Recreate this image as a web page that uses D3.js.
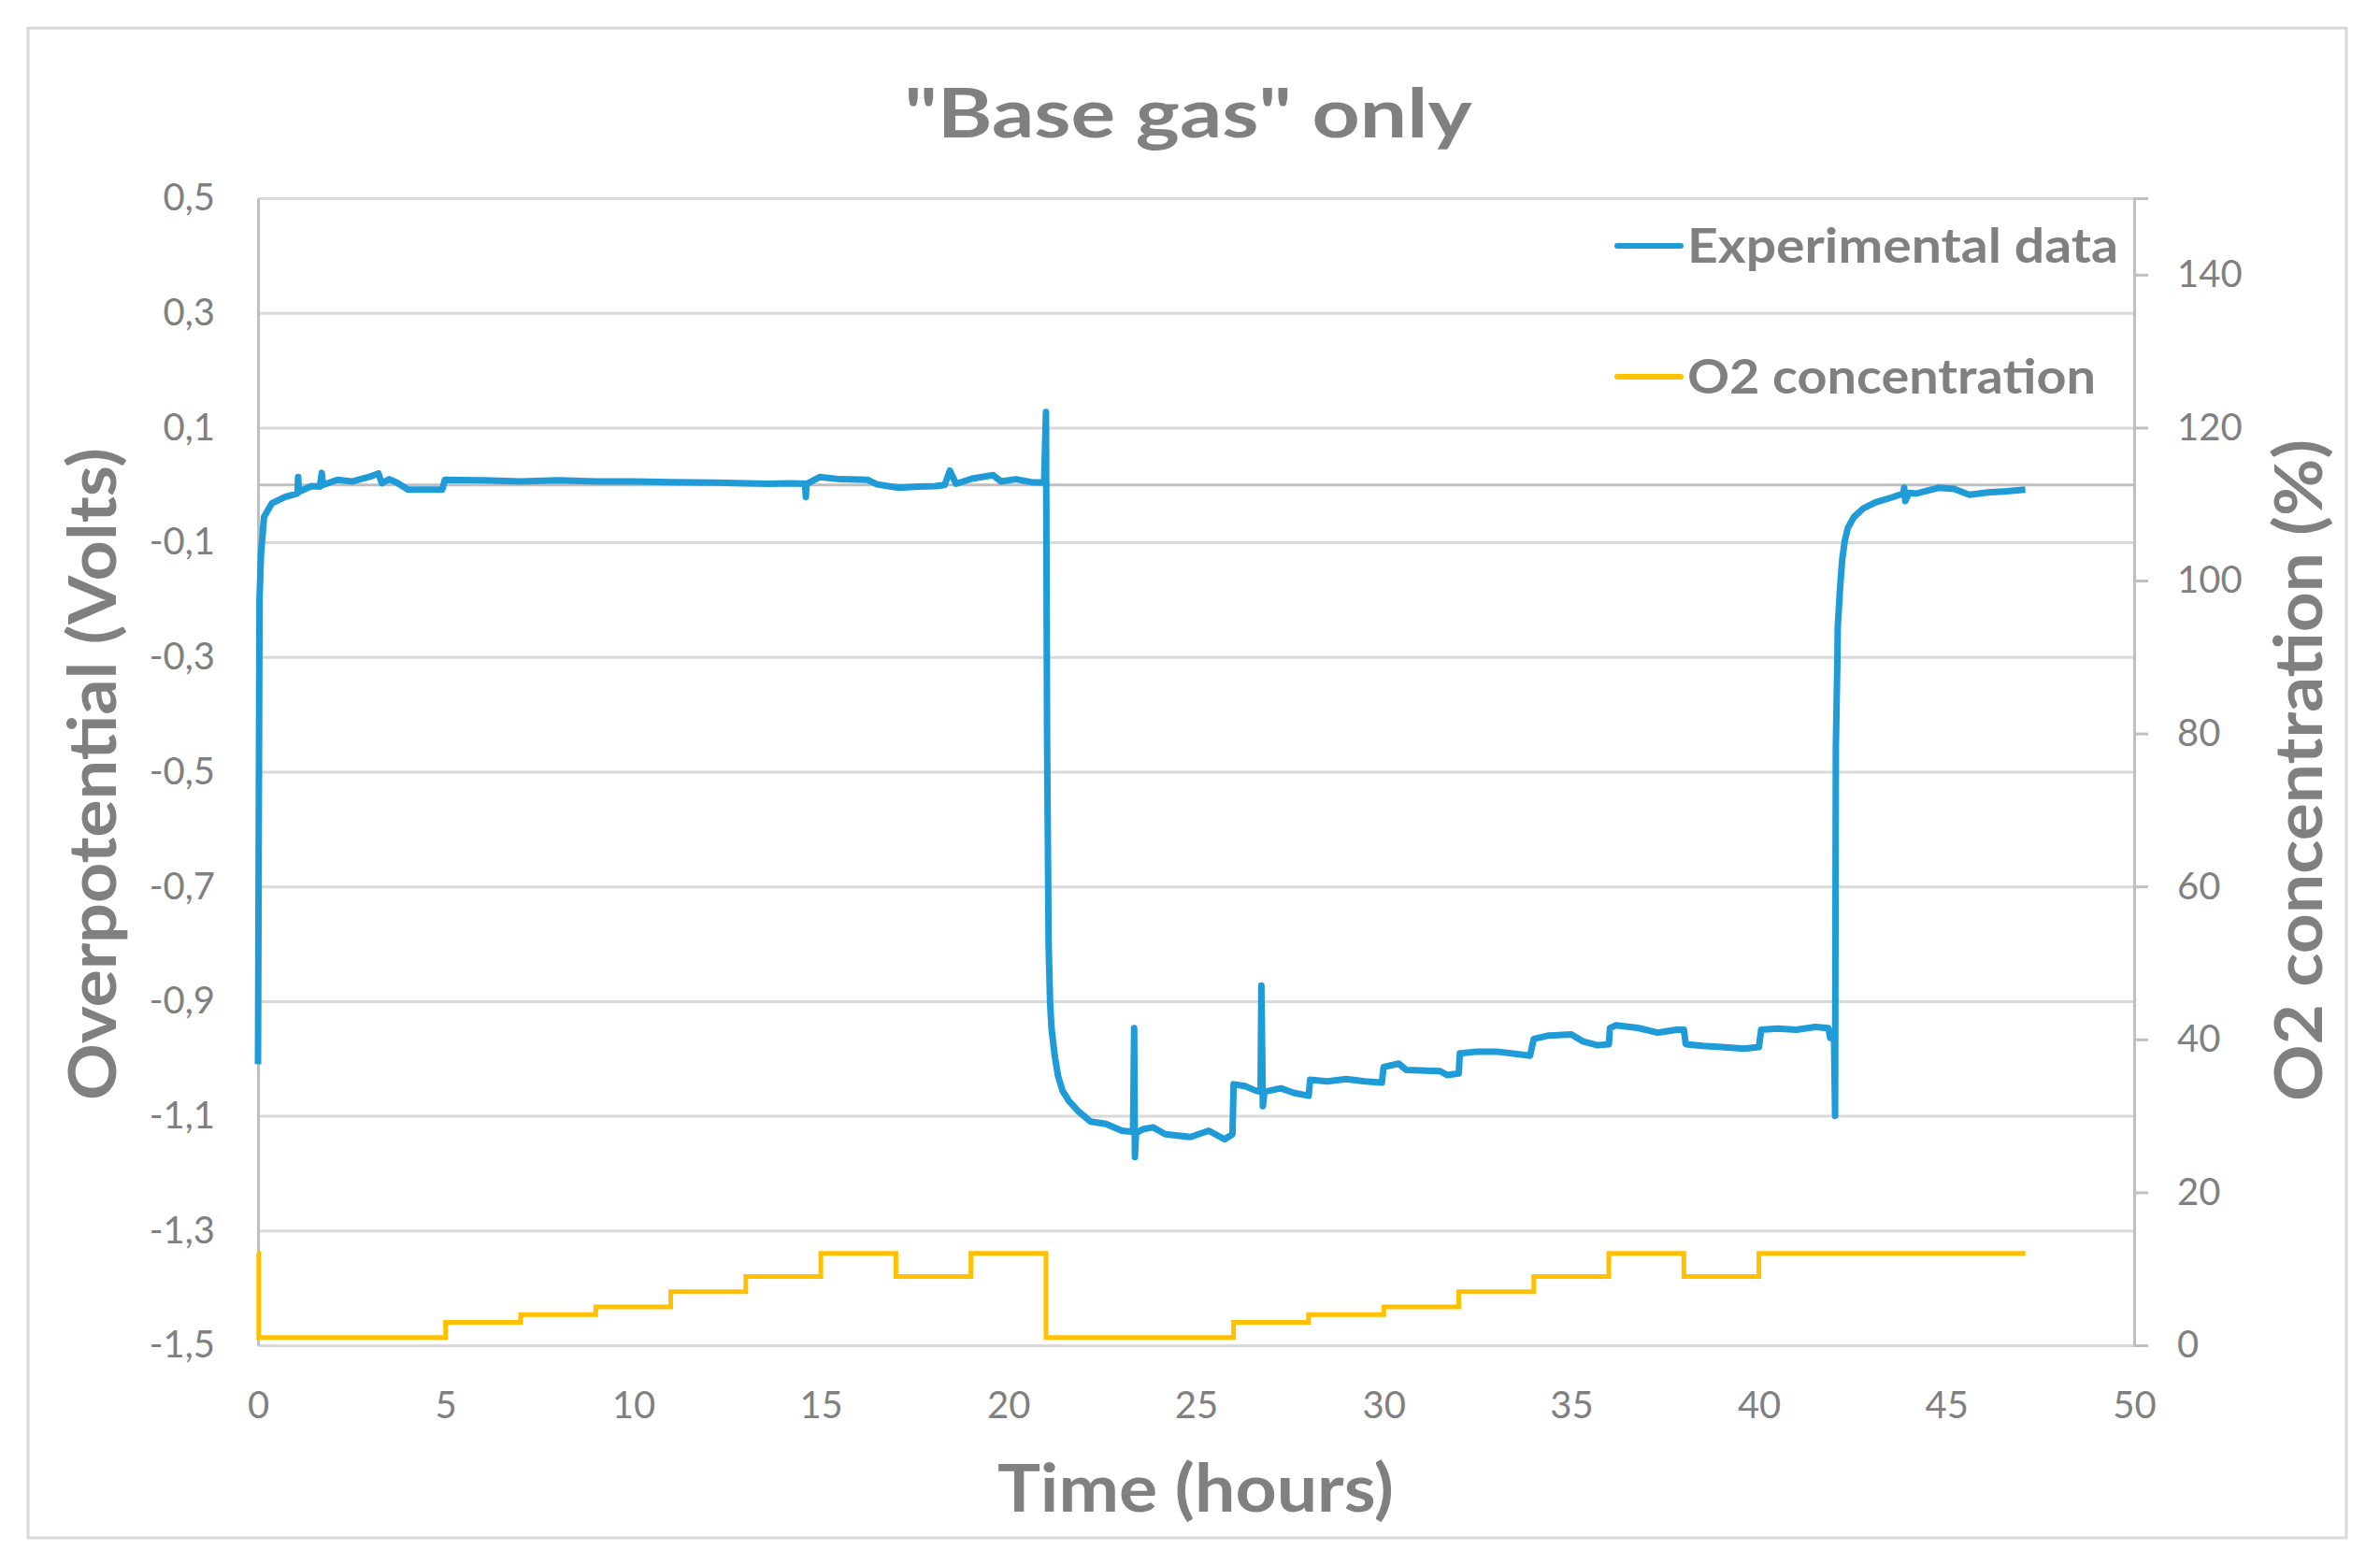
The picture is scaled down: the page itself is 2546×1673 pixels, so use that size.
<!DOCTYPE html>
<html>
<head>
<meta charset="utf-8">
<script src="https://cdn.jsdelivr.net/npm/d3@7"></script>
<style>
  body { margin: 0; background: #fff; }
  text { font-family: Lato, "Open Sans", sans-serif; }
</style>
</head>
<body>
<div class="chart"></div>
<script>
var svg_width = 2546;
var svg_height = 1673;

var margin = { top: 212, right: 263, bottom: 234, left: 276 };
var width = svg_width - margin.left - margin.right;
var height = svg_height - margin.top - margin.bottom;

// Experimental data (time in hours, overpotential in volts)
var expTime = [0.00, 0.02, 0.04, 0.08, 0.16, 0.37, 0.72, 1.05, 1.07, 1.09, 1.42, 1.65, 1.70, 1.73, 2.12, 2.5, 2.96, 3.21, 3.30, 3.5, 3.7, 4.0, 4.91, 4.98,
  6.0, 7.0, 8.0, 9.0, 10.0, 11.0, 12.2, 13.0, 13.6, 14.2, 14.58, 14.6, 14.62, 14.98, 15.5, 16.24, 16.5, 17.08, 17.6, 18.05, 18.3, 18.44, 18.6, 19.03, 19.59, 19.8, 20.2, 20.6, 20.95,
  21.0, 21.03, 21.07, 21.11, 21.15, 21.23, 21.32, 21.44, 21.61, 21.86, 22.19, 22.6, 23.02, 23.32, 23.35, 23.37, 23.4, 23.6, 23.85, 24.18, 24.85, 25.34, 25.76, 25.97,
  26.0, 26.3, 26.59, 26.72, 26.74, 26.78, 26.82, 27.26, 27.6, 28.0, 28.04, 28.5, 29.0, 29.5, 29.95, 30.0, 30.4, 30.6, 31.5, 31.7, 32.0,
  32.03, 32.5, 33.0, 33.5, 33.9, 34.0, 34.4, 35.0, 35.3, 35.7, 36.0, 36.03, 36.2, 36.8, 37.3, 37.8, 38.0, 38.05, 38.5, 39.0, 39.6, 40.0,
  40.06, 40.5, 41.0, 41.5, 41.85, 41.9, 42.0, 42.03, 42.05, 42.09, 42.1, 42.16, 42.22, 42.29, 42.37, 42.53, 42.78, 43.12, 43.53, 43.85, 43.87, 43.9,
  44.0, 44.2, 44.78, 45.2, 45.61, 46.1, 46.6, 47.1];
var expVolts = [-1.01, -0.60, -0.20, -0.12, -0.056, -0.032, -0.021, -0.015, 0.014, -0.012, -0.002, -0.003, 0.021, 0.000, 0.009, 0.006, 0.014, 0.020, 0.003, 0.010, 0.004, -0.008, -0.008, 0.009,
  0.008, 0.006, 0.008, 0.006, 0.006, 0.005, 0.004, 0.003, 0.002, 0.003, 0.002, -0.021, 0.002, 0.014, 0.010, 0.009, 0.001, -0.005, -0.003, -0.002, 0.000, 0.025, 0.002, 0.011, 0.017, 0.006, 0.010, 0.005, 0.004,
  0.127, -0.45, -0.80, -0.904, -0.949, -0.994, -1.03, -1.056, -1.074, -1.092, -1.11, -1.114, -1.126, -1.128, -0.947, -1.172, -1.13, -1.123, -1.12, -1.132, -1.137, -1.126, -1.141, -1.132,
  -1.045, -1.048, -1.056, -1.058, -0.873, -1.083, -1.058, -1.052, -1.060, -1.065, -1.037, -1.040, -1.036, -1.040, -1.042, -1.015, -1.009, -1.020, -1.022, -1.029, -1.026,
  -0.991, -0.988, -0.988, -0.992, -0.995, -0.966, -0.960, -0.958, -0.970, -0.977, -0.975, -0.947, -0.942, -0.947, -0.955, -0.950, -0.950, -0.975, -0.978, -0.980, -0.983, -0.980,
  -0.950, -0.948, -0.950, -0.945, -0.947, -0.964, -0.956, -1.10, -0.458, -0.309, -0.249, -0.182, -0.130, -0.097, -0.075, -0.056, -0.041, -0.030, -0.022, -0.015, -0.005, -0.028,
  -0.014, -0.015, -0.005, -0.007, -0.017, -0.013, -0.011, -0.008];

// O2 concentration steps (%), each value held until the next time
var o2Time = [0, 0.02, 5, 7, 9, 11, 13, 15, 17, 19, 21, 26, 28, 30, 32, 34, 36, 38, 40, 47.1];
var o2Conc = [12, 1, 3, 4, 5, 7, 9, 12, 9, 12, 1, 3, 4, 5, 7, 9, 12, 9, 12, 12];

var xTicks = [0, 5, 10, 15, 20, 25, 30, 35, 40, 45, 50];
var leftTicks = [-1.5, -1.3, -1.1, -0.9, -0.7, -0.5, -0.3, -0.1, 0.1, 0.3, 0.5];
var rightTicks = [0, 20, 40, 60, 80, 100, 120, 140];

var expData = expTime.map((t, i) => ({ t: t, v: expVolts[i] }));
var o2Data = o2Time.map((t, i) => ({ t: t, c: o2Conc[i] }));

var svg = d3.select(".chart")
  .append("svg")
  .attr("width", svg_width)
  .attr("height", svg_height);

// outer chart border
svg.append("rect")
  .attr("x", 30).attr("y", 30)
  .attr("width", 2480).attr("height", 1615)
  .attr("fill", "#fff")
  .attr("stroke", "#d9d9d9")
  .attr("stroke-width", 3);

var g = svg.append("g")
  .attr("transform", `translate(${margin.left}, ${margin.top})`);

var xScale = d3.scaleLinear().domain([0, 50]).range([0, width]);
var yScale = d3.scaleLinear().domain([-1.5, 0.5]).range([height, 0]);
var y2Scale = d3.scaleLinear().domain([0, 150]).range([height, 0]);

var fmt = d => (d < 0 ? "-" : "") + Math.abs(d).toFixed(1).replace(".", ",");

// gridlines
g.append("g")
  .call(d3.axisLeft(yScale).tickValues(leftTicks).tickSize(-width).tickFormat(""))
  .call(a => a.select(".domain").remove())
  .selectAll("line")
  .attr("stroke", "#d9d9d9")
  .attr("stroke-width", 3);

// horizontal axis line at zero
g.append("line")
  .attr("x1", 0).attr("x2", width)
  .attr("y1", yScale(0)).attr("y2", yScale(0))
  .attr("stroke", "#bfbfbf")
  .attr("stroke-width", 3);

// left axis
var leftAxis = g.append("g")
  .call(d3.axisLeft(yScale).tickValues(leftTicks).tickSize(0).tickPadding(46).tickFormat(fmt));
leftAxis.select(".domain").attr("stroke", "#bfbfbf").attr("stroke-width", 3);
leftAxis.selectAll("text").attr("font-size", 40).attr("fill", "#808080");

// bottom axis labels
var bottomAxis = g.append("g")
  .attr("transform", `translate(0, ${height})`)
  .call(d3.axisBottom(xScale).tickValues(xTicks).tickSize(0).tickPadding(50));
bottomAxis.select(".domain").remove();
bottomAxis.selectAll("text").attr("font-size", 40).attr("fill", "#808080");

// right axis
var rightAxis = g.append("g")
  .attr("transform", `translate(${width}, 0)`)
  .call(d3.axisRight(y2Scale).tickValues(rightTicks).tickSize(15).tickPadding(31));
rightAxis.select(".domain").attr("stroke", "#bfbfbf").attr("stroke-width", 3);
rightAxis.selectAll("line").attr("stroke", "#bfbfbf").attr("stroke-width", 3);
rightAxis.selectAll("text").attr("font-size", 40).attr("fill", "#808080");

// series
var expLine = d3.line()
  .x(d => xScale(d.t))
  .y(d => yScale(d.v));

var o2Line = d3.line()
  .curve(d3.curveStepAfter)
  .x(d => xScale(d.t))
  .y(d => y2Scale(d.c));

g.append("path")
  .datum(expData)
  .attr("d", expLine)
  .attr("fill", "none")
  .attr("stroke", "#1f9cd8")
  .attr("stroke-width", 7)
  .attr("stroke-linejoin", "round");

g.append("path")
  .datum(o2Data)
  .attr("d", o2Line)
  .attr("fill", "none")
  .attr("stroke", "#ffc000")
  .attr("stroke-width", 5);

// legend
var legend = [
  { name: "Experimental data", color: "#1f9cd8", y: 263, len: 461 },
  { name: "O2 concentration", color: "#ffc000", y: 403, len: 437 }
];
legend.forEach(function(d) {
  svg.append("line")
    .attr("x1", 1730).attr("x2", 1798)
    .attr("y1", d.y).attr("y2", d.y)
    .attr("stroke", d.color)
    .attr("stroke-width", 6)
    .attr("stroke-linecap", "round");
  svg.append("text")
    .attr("x", 1805).attr("y", d.y + 18)
    .attr("font-size", 52)
    .attr("font-weight", "bold")
    .attr("fill", "#808080")
    .attr("textLength", d.len)
    .attr("lengthAdjust", "spacingAndGlyphs")
    .text(d.name);
});

// titles
svg.append("text")
  .attr("x", 1271).attr("y", 147)
  .attr("text-anchor", "middle")
  .attr("font-size", 72)
  .attr("font-weight", "bold")
  .attr("fill", "#808080")
  .attr("textLength", 607)
  .attr("lengthAdjust", "spacingAndGlyphs")
  .text('"Base gas" only');

svg.append("text")
  .attr("x", 1279).attr("y", 1617)
  .attr("text-anchor", "middle")
  .attr("font-size", 70)
  .attr("font-weight", "bold")
  .attr("fill", "#808080")
  .attr("textLength", 424)
  .attr("lengthAdjust", "spacingAndGlyphs")
  .text("Time (hours)");

svg.append("text")
  .attr("transform", "translate(124, 828) rotate(-90)")
  .attr("text-anchor", "middle")
  .attr("font-size", 70)
  .attr("font-weight", "bold")
  .attr("fill", "#808080")
  .attr("textLength", 698)
  .attr("lengthAdjust", "spacingAndGlyphs")
  .text("Overpotential (Volts)");

svg.append("text")
  .attr("transform", "translate(2484, 824) rotate(-90)")
  .attr("text-anchor", "middle")
  .attr("font-size", 70)
  .attr("font-weight", "bold")
  .attr("fill", "#808080")
  .attr("textLength", 708)
  .attr("lengthAdjust", "spacingAndGlyphs")
  .text("O2 concentration (%)");
</script>
</body>
</html>
